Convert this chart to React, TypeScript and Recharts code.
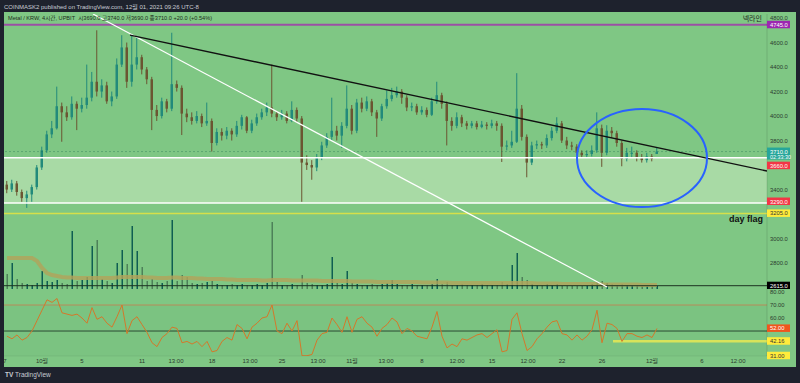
import React from "react";
import {
  ComposedChart,
  Bar,
  Line,
  XAxis,
  YAxis,
  ReferenceLine,
  ReferenceArea,
  ReferenceDot,
  Cell,
} from "recharts";

// 12h candles, days counted from Oct 1
const T0 = -3.5;
const STEP = 0.5;

const opens = [
  3440, 3400, 3450, 3380, 3330, 3360, 3420, 3580, 3720, 3850,
  3900, 4080, 4030, 3990, 4100, 4060, 4090, 4150, 4280, 4200,
  4250, 4120, 4160, 4420, 4560, 4280, 4420, 4480, 4380, 4300,
  4050, 4000, 4120, 4060, 4260, 4230, 4020, 3990, 3960, 4000,
  3940, 3960, 3780, 3870, 3840, 3880, 3850, 3920, 3990, 3880,
  3940, 3990, 4030, 4070, 4020, 3990, 4020, 3960, 4050, 3980,
  3620, 3600, 3580, 3660, 3760, 3830, 3880, 3840, 3920, 4060,
  3880, 4110, 4060, 4120, 4030, 3980, 4080, 4140, 4170, 4200,
  4150, 4070, 4080, 4030, 4050, 4010, 4120, 4170, 4100, 3960,
  3920, 3990, 3940, 3920, 3940, 3910, 3930, 3920, 3940, 3920,
  3750, 3760, 3790, 4060, 3830, 3620, 3760, 3770, 3760, 3820,
  3880, 3940, 3800, 3760, 3750, 3700, 3680, 3690, 3720, 3900,
  3700, 3880, 3860, 3780, 3650, 3700, 3700, 3660, 3640, 3670,
  3690,
];
const highs = [
  3470, 3480, 3470, 3400, 3390, 3440, 3600, 3750, 3880, 3960,
  4240, 4110, 4080, 4160, 4120, 4150, 4420, 4360, 4700, 4300,
  4280, 4200, 4470, 4660, 4600, 4660, 4650, 4500, 4400, 4320,
  4090, 4150, 4140, 4680, 4290, 4250, 4060, 4030, 4040, 4020,
  4110, 3980, 3900, 3900, 3910, 3900, 3960, 4010, 4000, 3970,
  4020, 4060, 4110, 4420, 4040, 4050, 4040, 4120, 4070, 4000,
  3680, 3640, 3690, 3790, 3860, 4150, 3920, 3950, 4250, 4090,
  4140, 4150, 4160, 4140, 4050, 4100, 4210, 4230, 4240, 4220,
  4170, 4110, 4100, 4080, 4070, 4150, 4280, 4190, 4120, 3990,
  4030, 4010, 3960, 3960, 3960, 3960, 3950, 3970, 3960, 3940,
  3800, 3880, 4350, 4090, 3850, 3790, 3800, 3790, 3850, 3910,
  3990, 3960, 3830, 3790, 3770, 3720, 3720, 3760, 4030, 3930,
  3925, 3910, 3880, 3800, 3740, 3750, 3720, 3690, 3700, 3690,
  3740,
];
const lows = [
  3370, 3380, 3350, 3300, 3250, 3300, 3400, 3560, 3700, 3820,
  3890, 3790, 3960, 3970, 3885, 4030, 4060, 4120, 4160, 4150,
  4100, 4080, 4140, 4400, 4230, 4240, 4380, 4340, 4260, 3885,
  3960, 3980, 4030, 4040, 4200, 3845, 3950, 3930, 3940, 3910,
  3920, 3710, 3760, 3800, 3810, 3800, 3830, 3890, 3860, 3860,
  3920, 3970, 4000, 3990, 3960, 3970, 3940, 3950, 3950, 3300,
  3560, 3480, 3550, 3640, 3740, 3800, 3800, 3740, 3900, 3850,
  3860, 4030, 4040, 4000, 3830, 3960, 4060, 4120, 4150, 4100,
  4040, 4040, 4010, 4010, 3990, 4000, 4100, 4060, 3760, 3880,
  3900, 3910, 3890, 3900, 3890, 3900, 3890, 3900, 3880, 3625,
  3720, 3740, 3780, 3800, 3500, 3600, 3730, 3730, 3740, 3800,
  3860, 3780, 3730, 3720, 3680, 3660, 3660, 3670, 3700, 3585,
  3680, 3820, 3750, 3590, 3630, 3660, 3630, 3620, 3620, 3630,
  3690,
];
const closes = [
  3400, 3450, 3380, 3330, 3360, 3420, 3580, 3720, 3850, 3900,
  4080, 4030, 3990, 4100, 4060, 4090, 4150, 4280, 4200, 4250,
  4120, 4160, 4420, 4560, 4280, 4420, 4480, 4380, 4300, 4050,
  4000, 4120, 4060, 4260, 4230, 4020, 3990, 3960, 4000, 3940,
  3960, 3780, 3870, 3840, 3880, 3850, 3920, 3990, 3880, 3940,
  3990, 4030, 4070, 4020, 3990, 4020, 3960, 4050, 3980, 3620,
  3600, 3580, 3660, 3760, 3830, 3880, 3840, 3920, 4060, 3880,
  4110, 4060, 4120, 4030, 3980, 4080, 4140, 4170, 4200, 4150,
  4070, 4080, 4030, 4050, 4010, 4120, 4170, 4100, 3960, 3920,
  3990, 3940, 3920, 3940, 3910, 3930, 3920, 3940, 3920, 3750,
  3760, 3790, 4060, 3830, 3620, 3760, 3770, 3760, 3820, 3880,
  3940, 3800, 3760, 3750, 3700, 3680, 3690, 3720, 3900, 3700,
  3880, 3860, 3780, 3650, 3700, 3700, 3660, 3640, 3670, 3650,
  3710,
];
const volumes = [
  15, 26, 10, 6, 5, 4, 6, 18, 8, 7,
  9, 6, 5, 58, 8, 9, 12, 43, 49, 10,
  8, 6, 26, 39, 25, 63, 38, 22, 8, 10,
  7, 6, 8, 69, 8, 14, 12, 6, 5, 6,
  7, 8, 5, 4, 4, 5, 4, 5, 4, 4,
  5, 4, 6, 67, 7, 4, 4, 5, 4, 14,
  6, 5, 4, 4, 5, 32, 6, 5, 18, 6,
  5, 4, 4, 5, 4, 5, 6, 9, 5, 4,
  4, 5, 4, 4, 4, 5, 10, 5, 7, 4,
  4, 5, 4, 4, 4, 5, 4, 4, 4, 7,
  5, 24, 36, 12, 9, 5, 4, 4, 5, 4,
  5, 4, 4, 4, 4, 4, 4, 5, 7, 8,
  6, 5, 4, 5, 4, 4, 4, 4, 3, 3,
  3,
];
const volumeMA = [
  31, 31, 31, 31, 31, 31, 28, 21, 16, 14,
  13, 12, 11.5, 11.5, 11, 11, 11, 11, 11, 11,
  11, 11, 11.5, 12, 12, 12, 12, 12, 11.5, 11.5,
  11, 11, 11, 11.5, 11.5, 11, 11, 11, 10.5, 10.5,
  10, 10, 10, 10, 9.5, 9.5, 9, 9, 9, 9,
  9, 8.5, 8.5, 9, 9, 9, 9, 8.5, 8.5, 8.5,
  8.5, 8.5, 8.5, 8, 8, 8, 8, 8, 8, 7.5,
  7.5, 7.5, 7.5, 7.5, 7, 7, 7, 7, 7, 7,
  7, 7, 7, 6.5, 6.5, 6.5, 6.5, 6.5, 6.5, 6,
  6, 6, 6, 6, 6, 6, 6, 6, 6, 6,
  6, 6, 6, 6, 6, 6, 5.5, 5.5, 5.5, 5.5,
  5.5, 5, 5, 5, 5, 5, 5, 5, 5, 4.5,
  4.5, 4.5, 4.5, 4.5, 4.5, 4.5, 4.5, 4, 4, 4,
  4,
];
const rsi = [
  46, 44, 47, 43, 45, 50, 58, 66, 74, 72,
  75, 64, 63, 62, 63, 60, 56, 68, 59, 61,
  56, 53, 61, 70, 48, 58, 61, 55, 49, 41,
  38, 45, 48, 53, 52, 41, 42, 40, 42, 38,
  42, 34, 35, 42, 45, 43, 55, 52, 44, 53,
  56, 60, 61, 70, 50, 48, 56, 50, 58, 31,
  31, 32, 43, 48, 49, 60, 55, 49, 61, 49,
  59, 61, 56, 53, 46, 52, 55, 60, 57, 48,
  52, 50, 46, 45, 44, 53, 65, 46, 37, 40,
  38, 44, 43, 45, 47, 48, 45, 48, 51, 34,
  35, 59, 64, 48, 35, 38, 44, 48, 53, 57,
  58, 48, 47, 43, 47, 43, 46, 51, 66, 41,
  56, 55, 52, 42, 48, 48, 46, 45, 47, 45,
  52,
];

const timeTicks = [-3.7, 0, 4, 10, 13.4, 17, 20.8, 24, 27.6, 31, 34.4, 38, 41.5, 45, 48.6, 52, 56, 61, 66, 69.6];
const timeLabels = ["7", "10월", "5", "11", "13:00", "18", "13:00", "25", "13:00", "11월", "13:00", "8", "12:00", "15", "12:00", "22", "26", "12월", "6", "12:00"];

const priceTicks = [2800, 3000, 3200, 3400, 3600, 3800, 4000, 4200, 4400, 4600, 4800];
const rsiTicks = [60, 70, 80];

// drawn levels
const neckline = 4745;
const boxTop = 3660;
const boxBottom = 3290;
const dayFlag = 3205;
const volumeLine = 2615;
const rsiLevel = 42.16;
const rsiLow = 31;
const diagonal = [{ x: 5.1, y: 4833 }, { x: 56.5, y: 2604 }];
const trendline = [{ x: 8.8, y: 4661 }, { x: 72.5, y: 3551 }];
const circleCenter = { x: 60, y: 3657 };

const X_DOMAIN = [-3.8, 72.5];
const PRICE_DOMAIN = [2588, 4833];
const RSI_DOMAIN = [30.8, 82.3];

const FONT = '"Liberation Sans", Arial, "Noto Sans CJK KR", sans-serif';
const GREEN = "#7fc784";
const UP = "#228a7b";
const DOWN = "#6b5532";
const AXIS_TEXT = "#2b3a2e";

const data = closes.map((c, i) => ({
  t: T0 + STEP * i,
  o: opens[i],
  h: highs[i],
  l: lows[i],
  c,
  range: [lows[i], highs[i]],
  v: volumes[i],
  vma: volumeMA[i],
  rsi: rsi[i],
}));

const last = data[data.length - 1];
const lastRsi = rsi[rsi.length - 1];

type Mark = { bg: string; fg: string; shift?: number; sub?: string };

const priceMarks: Record<number, Mark> = {
  [neckline]: { bg: "#9c27b0", fg: "#fff" },
  [last.c]: { bg: "#26a69a", fg: "#fff", sub: "02:33:30" },
  [boxTop]: { bg: "#f23645", fg: "#fff", shift: 8 },
  [boxBottom]: { bg: "#f23645", fg: "#fff", shift: -1.5 },
  [dayFlag]: { bg: "#ffeb3b", fg: "#333" },
  [volumeLine]: { bg: "#000", fg: "#fff" },
};

const rsiMarks: Record<number, Mark> = {
  [lastRsi]: { bg: "#f0561d", fg: "#fff" },
  [rsiLevel]: { bg: "#ffeb3b", fg: "#333" },
  [rsiLow]: { bg: "#ffeb3b", fg: "#333" },
};

function AxisTick(props: any) {
  const { x, y, payload, marks, digits } = props;
  const v = payload.value as number;
  const m: Mark | undefined = marks[v];
  const label = v.toFixed(digits);
  if (!m) {
    return (
      <text x={x} y={y + 2} fontSize={5.8} fill={AXIS_TEXT} fontFamily={FONT}>
        {label}
      </text>
    );
  }
  const yy = y + (m.shift ?? 0);
  return (
    <g>
      <rect x={x - 3} y={yy - 4} width={23} height={m.sub ? 12 : 7.5} fill={m.bg} />
      <text x={x} y={yy + 2} fontSize={5.8} fill={m.fg} fontFamily={FONT}>
        {label}
      </text>
      {m.sub && (
        <text x={x} y={yy + 7.5} fontSize={5.4} fill={m.fg} fontFamily={FONT}>
          {m.sub}
        </text>
      )}
    </g>
  );
}

function Candle(props: any) {
  const { x, y, width, height, payload } = props;
  if (!payload) return null;
  const { o, h, l, c } = payload;
  const top = Math.min(y, y + height);
  const span = Math.abs(height);
  const py = (v: number) => top + ((h - v) / (h - l || 1)) * span;
  const color = c >= o ? UP : DOWN;
  const cx = x + width / 2;
  const bTop = py(Math.max(o, c));
  const bBot = py(Math.min(o, c));
  return (
    <g>
      <line x1={cx} x2={cx} y1={top} y2={top + span} stroke={color} strokeWidth={1} />
      <rect x={x} y={bTop} width={width} height={Math.max(1, bBot - bTop)} fill={color} />
    </g>
  );
}

export default function App() {
  const priceAxisTicks = [...priceTicks, ...Object.keys(priceMarks).map(Number)];
  const rsiAxisTicks = [...rsiTicks, ...Object.keys(rsiMarks).map(Number)];

  return (
    <div
      style={{
        position: "absolute",
        left: 0,
        top: 0,
        width: 800,
        height: 383,
        background: "#1e222d",
        overflow: "hidden",
        fontFamily: FONT,
      }}
    >
      <div style={{ position: "absolute", left: 4, top: 2, fontSize: 6, color: "#c9ccd4", whiteSpace: "nowrap" }}>
        COINMASK2 published on TradingView.com, 12월 01, 2021 09:26 UTC-8
      </div>

      {/* panel */}
      <div style={{ position: "absolute", left: 4, top: 12, width: 792, height: 355, background: GREEN }} />

      {/* volume overlay */}
      <div style={{ position: "absolute", left: 4, top: 14 }}>
        <ComposedChart width={792} height={275} data={data} margin={{ top: 0, right: 29, bottom: 0, left: 0 }}>
          <XAxis dataKey="t" type="number" domain={X_DOMAIN} hide allowDataOverflow />
          <YAxis domain={[0, 275]} hide allowDataOverflow />
          <Bar dataKey="v" barSize={1.5} isAnimationActive={false}>
            {data.map((d, i) => (
              <Cell key={i} fill={d.c >= d.o ? "#0f5e52" : "rgba(60,105,75,0.75)"} />
            ))}
          </Bar>
          <Line
            dataKey="vma"
            type="linear"
            dot={false}
            stroke="#b3a25a"
            strokeOpacity={0.8}
            strokeWidth={4}
            isAnimationActive={false}
          />
        </ComposedChart>
      </div>

      {/* price pane */}
      <div style={{ position: "absolute", left: 4, top: 14 }}>
        <ComposedChart width={792} height={275} data={data} margin={{ top: 0, right: 0, bottom: 0, left: 0 }}>
          <XAxis dataKey="t" type="number" domain={X_DOMAIN} hide allowDataOverflow />
          <YAxis
            orientation="right"
            width={29}
            domain={PRICE_DOMAIN}
            allowDataOverflow
            ticks={priceAxisTicks}
            interval={0}
            tickSize={0}
            tickMargin={3}
            axisLine={{ stroke: "rgba(0,0,0,0.12)" }}
            tickLine={false}
            tick={<AxisTick marks={priceMarks} digits={1} />}
          />
          <ReferenceArea y1={boxBottom} y2={boxTop} fill="#a8daa5" fillOpacity={1} stroke="none" />
          <ReferenceLine y={boxTop} stroke="#ffffff" strokeWidth={1.5} />
          <ReferenceLine y={boxBottom} stroke="#ffffff" strokeWidth={1.5} />
          <ReferenceLine
            y={dayFlag}
            stroke="#d6e04a"
            strokeWidth={1.5}
            label={(p: any) => (
              <text
                x={p.viewBox.x + p.viewBox.width - 4}
                y={p.viewBox.y + 9}
                textAnchor="end"
                fontSize={9}
                fontWeight="bold"
                fill="#111"
                fontFamily={FONT}
              >
                day flag
              </text>
            )}
          />
          <ReferenceLine
            y={neckline}
            stroke="#9b4fa5"
            strokeWidth={2}
            label={(p: any) => (
              <text
                x={p.viewBox.x + p.viewBox.width - 5}
                y={p.viewBox.y - 4}
                textAnchor="end"
                fontSize={7}
                fill="#222"
                fontFamily={FONT}
              >
                넥라인
              </text>
            )}
          />
          <ReferenceLine y={last.c} stroke="rgba(30,110,80,0.35)" strokeDasharray="2 2" />
          <ReferenceLine y={volumeLine} stroke="#1d3322" strokeWidth={1} />
          <Bar dataKey="range" barSize={2.5} shape={<Candle />} isAnimationActive={false} />
          <ReferenceLine segment={diagonal} stroke="#ffffff" strokeWidth={1.2} ifOverflow="hidden" />
          <ReferenceLine segment={trendline} stroke="#111111" strokeWidth={1.3} ifOverflow="hidden" />
          <ReferenceDot
            x={circleCenter.x}
            y={circleCenter.y}
            r={1}
            shape={(p: any) => (
              <ellipse cx={p.cx} cy={p.cy} rx={65} ry={49} fill="none" stroke="#2962ff" strokeWidth={2} />
            )}
          />
        </ComposedChart>
      </div>

      <div
        style={{
          position: "absolute",
          left: 8,
          top: 14,
          fontSize: 5.6,
          color: "#1d2e20",
          whiteSpace: "nowrap",
        }}
      >
        Metal / KRW, 4시간, UPBIT&nbsp;&nbsp;시{last.o.toFixed(1)} 고{last.h.toFixed(1)} 저{last.l.toFixed(1)} 종
        {last.c.toFixed(1)} +{(last.c - last.o).toFixed(1)} (+{(((last.c - last.o) / last.o) * 100).toFixed(2)}%)
      </div>

      {/* RSI pane + time axis */}
      <div style={{ position: "absolute", left: 4, top: 289 }}>
        <ComposedChart width={792} height={79} data={data} margin={{ top: 0, right: 0, bottom: 0, left: 0 }}>
          <XAxis
            dataKey="t"
            type="number"
            domain={X_DOMAIN}
            allowDataOverflow
            ticks={timeTicks}
            interval={0}
            height={12}
            tickSize={0}
            tickMargin={3}
            axisLine={{ stroke: "rgba(0,0,0,0.06)" }}
            tickLine={false}
            tick={{ fontSize: 6, fill: AXIS_TEXT, fontFamily: FONT }}
            tickFormatter={(v: number) => timeLabels[timeTicks.indexOf(v)] ?? ""}
          />
          <YAxis
            orientation="right"
            width={29}
            domain={RSI_DOMAIN}
            allowDataOverflow
            ticks={rsiAxisTicks}
            interval={0}
            tickSize={0}
            tickMargin={3}
            axisLine={{ stroke: "rgba(0,0,0,0.12)" }}
            tickLine={false}
            tick={<AxisTick marks={rsiMarks} digits={2} />}
          />
          <ReferenceArea y1={RSI_DOMAIN[0]} y2={70} fill="rgba(40,90,50,0.07)" stroke="none" />
          <ReferenceLine y={70} stroke="#b88a58" strokeWidth={1} />
          <ReferenceLine y={50} stroke="#2c4a33" strokeWidth={1} />
          <ReferenceLine
            segment={[{ x: 57.1, y: rsiLevel }, { x: X_DOMAIN[1], y: rsiLevel }]}
            stroke="#d8e35a"
            strokeWidth={2.5}
          />
          <Line
            dataKey="rsi"
            type="linear"
            dot={false}
            stroke="#d4782a"
            strokeWidth={1}
            isAnimationActive={false}
          />
        </ComposedChart>
      </div>

      <div style={{ position: "absolute", left: 5, top: 371, fontSize: 6.5, color: "#c9ccd4", whiteSpace: "nowrap" }}>
        <b>TV</b> TradingView
      </div>
    </div>
  );
}
